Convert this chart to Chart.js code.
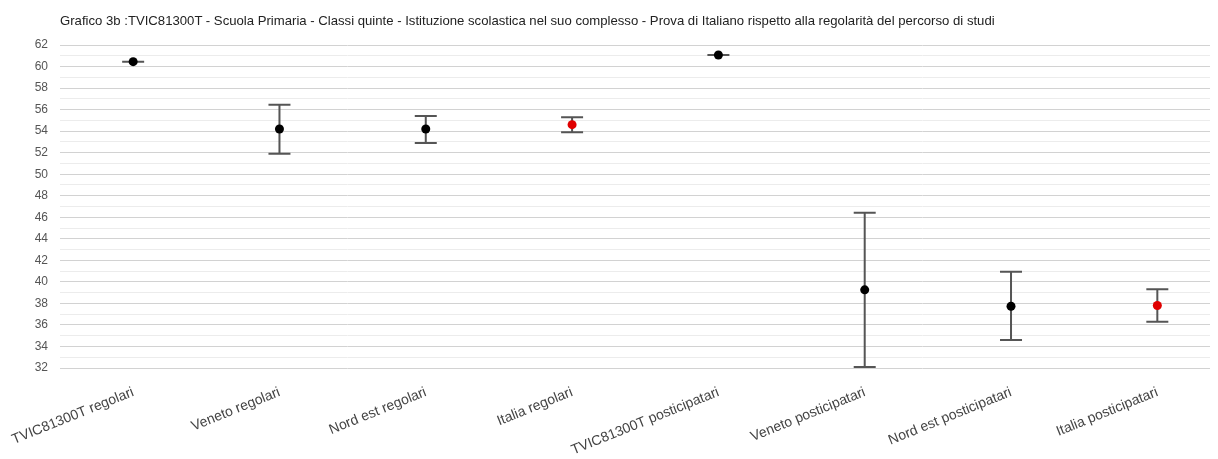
<!DOCTYPE html>
<html>
<head>
<meta charset="utf-8">
<script src="https://cdn.jsdelivr.net/npm/chart.js@4"></script>
<style>
  html, body { margin: 0; padding: 0; background: #fff; }
  #wrap { position: relative; width: 1218px; height: 459px; }
  #title {
    position: absolute; left: 60px; top: 13px;
    font: 13.15px "Liberation Sans", Arial, sans-serif; color: #222; white-space: nowrap;
  }
</style>
</head>
<body>
<div id="wrap">
  <div id="title">Grafico 3b :TVIC81300T - Scuola Primaria - Classi quinte - Istituzione scolastica nel suo complesso - Prova di Italiano rispetto alla regolarità del percorso di studi</div>
  <canvas id="chart" width="1218" height="459"></canvas>
</div>
<script>
// categories on the x axis
const categories = [
  'TVIC81300T regolari',
  'Veneto regolari',
  'Nord est regolari',
  'Italia regolari',
  'TVIC81300T posticipatari',
  'Veneto posticipatari',
  'Nord est posticipatari',
  'Italia posticipatari',
];

// mean score and confidence interval bounds
const means = [60.45, 54.2, 54.2, 54.6, 61.07, 39.26, 37.74, 37.8];
const lows = [60.45, 51.9, 52.9, 53.9, 61.07, 32.1, 34.6, 36.3];
const highs = [60.45, 56.45, 55.4, 55.3, 61.07, 46.42, 40.93, 39.32];
const pointColors = ['#000', '#000', '#000', '#e00000', '#000', '#000', '#000', '#e00000'];

const errorBarPlugin = {
  id: 'errorBars',
  beforeDatasetsDraw(chart) {
    const { ctx, scales: { x, y } } = chart;
    ctx.save();
    ctx.strokeStyle = '#555';
    ctx.lineWidth = 2;
    categories.forEach((_, i) => {
      const px = x.getPixelForValue(i);
      const top = y.getPixelForValue(highs[i]);
      const bottom = y.getPixelForValue(lows[i]);
      ctx.beginPath();
      ctx.moveTo(px, top);
      ctx.lineTo(px, bottom);
      ctx.moveTo(px - 11, top);
      ctx.lineTo(px + 11, top);
      ctx.moveTo(px - 11, bottom);
      ctx.lineTo(px + 11, bottom);
      ctx.stroke();
    });
    ctx.restore();
  },
};

new Chart(document.getElementById('chart'), {
  type: 'scatter',
  data: {
    datasets: [
      {
        data: means.map((m, i) => ({ x: i, y: m })),
        pointRadius: 4.5,
        pointHoverRadius: 4.5,
        pointBackgroundColor: pointColors,
        pointBorderWidth: 0,
      },
    ],
  },
  options: {
    responsive: false,
    animation: false,
    layout: { padding: { top: 45, right: 8, left: 0, bottom: 0 } },
    plugins: {
      legend: { display: false },
      tooltip: { enabled: false },
    },
    scales: {
      x: {
        type: 'linear',
        min: -0.5,
        max: 7.36,
        afterBuildTicks: (axis) => {
          axis.ticks = categories.map((_, i) => ({ value: i }));
        },
        afterFit: (axis) => {
          axis.height = 91;
        },
        grid: { display: false },
        border: { display: false },
        ticks: {
          autoSkip: false,
          minRotation: 22,
          maxRotation: 22,
          padding: 8,
          color: '#444',
          font: { family: '"Liberation Sans", Arial', size: 14 },
          callback: (v) => categories[v],
        },
      },
      y: {
        min: 32,
        max: 62,
        afterFit: (axis) => {
          axis.width = 60;
        },
        border: { display: false },
        grid: {
          drawTicks: false,
          color: (c) => (c.tick && c.tick.value % 2 === 0 ? '#d2d2d2' : '#ececec'),
        },
        ticks: {
          stepSize: 1,
          autoSkip: false,
          padding: 12,
          color: '#555',
          font: { family: '"Liberation Sans", Arial', size: 12 },
          callback: (v) => (v % 2 === 0 ? v : ''),
        },
      },
    },
  },
  plugins: [errorBarPlugin],
});
</script>
</body>
</html>
